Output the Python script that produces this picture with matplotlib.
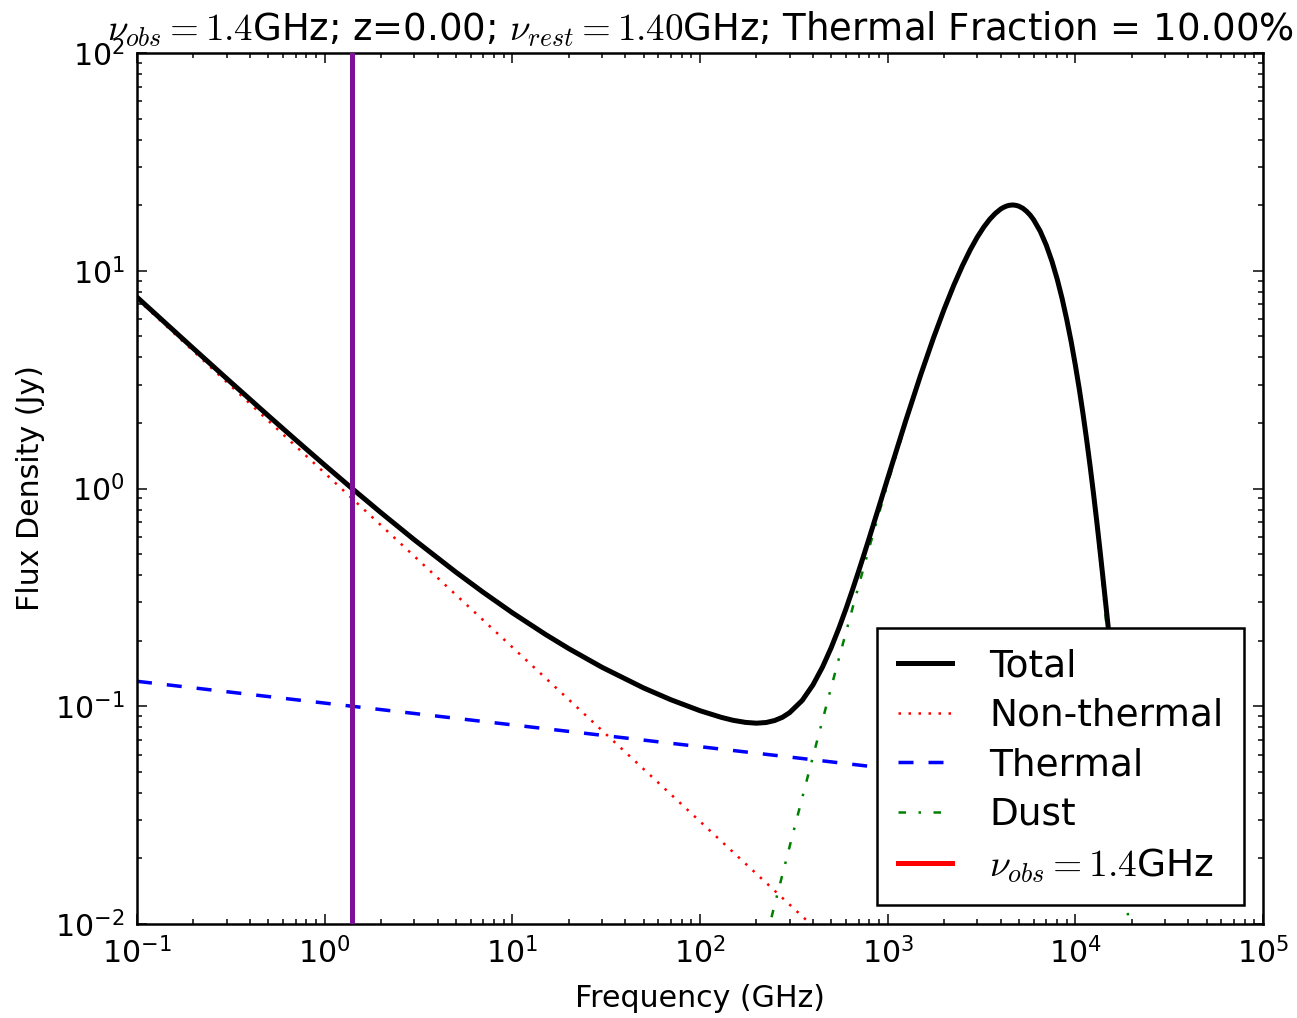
import matplotlib
matplotlib.use("Agg")
from matplotlib import pyplot as plt
from matplotlib.lines import Line2D

# Frequencies (GHz) and fluxes (Jy)
freq = [0.1, 0.2, 0.3, 0.5, 0.7, 1, 1.4, 2, 3, 5, 7, 10, 15, 20, 30, 50, 70, 100,
        130, 150, 175, 200, 225, 250, 275, 300, 350, 400, 450, 500, 550, 600,
        650, 700, 750, 800, 900, 1000, 1250, 1500, 1750, 2000, 2250, 2500, 2750,
        3000, 3250, 3500, 3750, 4000, 4150, 4300, 4450, 4650, 4850, 5000, 5250,
        5500, 5750, 6000, 6500, 7000, 7500, 8000, 8500, 9000, 9500, 10000,
        10500, 11000, 11500, 12000, 12500, 13000, 13500, 14000, 14500, 15000,
        15500, 16000, 17000, 18000, 19000, 20000, 21000, 30000, 50000]
total = [7.561, 4.390, 3.203, 2.162, 1.674, 1.281, 1.000, 0.7730, 0.5819, 0.4131,
         0.3335, 0.2688, 0.2139, 0.1839, 0.1511, 0.1214, 0.1071, 0.0954, 0.0889,
         0.0862, 0.0843, 0.0836, 0.0842, 0.0860, 0.0890, 0.0934, 0.1062, 0.1254,
         0.1516, 0.1857, 0.2285, 0.2806, 0.3432, 0.4166, 0.5011, 0.5976, 0.8284,
         1.112, 2.056, 3.327, 4.885, 6.661, 8.574, 10.53, 12.45, 14.25, 15.86,
         17.24, 18.35, 19.20, 19.56, 19.82, 19.98, 20.05, 19.95, 19.79, 19.36,
         18.74, 18.00, 17.13, 15.19, 13.11, 11.07, 9.168, 7.461, 5.97, 4.727,
         3.69, 2.858, 2.189, 1.664, 1.258, 0.946, 0.709, 0.5306, 0.397, 0.2991,
         0.2267, 0.1737, 0.1353, 0.0876, 0.0631, 0.0507, 0.0445, 0.0413, 0.0372,
         0.0353]

# power-law components (straight in log-log)
pl_freq = [0.1, 1, 1.4, 10, 100, 1000, 10000, 50000]
non_thermal = [7.431, 1.178, 0.900, 0.1867, 0.02959, 0.00469, 0.00074, 0.00021]
thermal = [0.1302, 0.1034, 0.1000, 0.08214, 0.06523, 0.05182, 0.04118, 0.03504]

dust_freq = [100, 130, 150, 175, 200, 225, 250, 275, 300, 350, 400, 450, 500, 550,
             600, 650, 700, 750, 800, 900, 1000, 1250, 1500, 1750, 2000, 2250,
             2500, 2750, 3000, 3250, 3500, 3750, 4000, 4150, 4300, 4450, 4650,
             4850, 5000, 5250, 5500, 5750, 6000, 6500, 7000, 7500, 8000, 8500,
             9000, 9500, 10000, 10500, 11000, 11500, 12000, 12500, 13000, 13500,
             14000, 14500, 15000, 15500, 16000, 17000, 18000, 19000, 20000, 21000]
dust = [0.00053, 0.00132, 0.00215, 0.00365, 0.00575, 0.00857, 0.01225, 0.01688,
        0.0226, 0.0378, 0.0588, 0.08656, 0.122, 0.1659, 0.219, 0.2825, 0.3566,
        0.4419, 0.539, 0.7709, 1.055, 2.001, 3.274, 4.833, 6.61, 8.524, 10.48,
        12.40, 14.20, 15.81, 17.19, 18.30, 19.15, 19.51, 19.77, 19.93, 20.0,
        19.90, 19.74, 19.31, 18.70, 17.96, 17.09, 15.15, 13.07, 11.03, 9.125,
        7.418, 5.93, 4.685, 3.65, 2.816, 2.148, 1.623, 1.217, 0.905, 0.668, 0.490,
        0.357, 0.2589, 0.1866, 0.1338, 0.0955, 0.0481, 0.0238, 0.01163, 0.00561,
        0.00268]
nu_obs = 1.4

plt.rcParams['font.family'] = 'DejaVu Sans'
plt.rcParams['mathtext.fontset'] = 'cm'
plt.rcParams['lines.scale_dashes'] = False
for ax_name in ('xtick', 'ytick'):
    plt.rcParams[ax_name + '.direction'] = 'in'
    plt.rcParams[ax_name + '.major.size'] = 4
    plt.rcParams[ax_name + '.minor.size'] = 2
    plt.rcParams[ax_name + '.major.width'] = 0.6
    plt.rcParams[ax_name + '.minor.width'] = 0.6
    plt.rcParams[ax_name + '.labelsize'] = 12
    plt.rcParams[ax_name + '.major.pad'] = 5
plt.rcParams['xtick.top'] = True
plt.rcParams['ytick.right'] = True

fig = plt.figure(figsize=(1297 / 180, 1018 / 180), dpi=180)
ax = fig.add_axes([137 / 1297, 94 / 1018, 1126 / 1297, 871 / 1018])
for s in ax.spines.values():
    s.set_linewidth(1.0)

ax.plot(freq, total, color='k', lw=2, label='Total', zorder=4)
ax.plot(pl_freq, non_thermal, color='r', lw=1, dashes=(1, 3), label='Non-thermal')
ax.plot(pl_freq, thermal, color='b', lw=1.4, dashes=(6, 6), label='Thermal')
ax.plot(dust_freq, dust, color=(0, 0.5, 0), lw=1, dashes=(3, 5, 1, 5), label='Dust')
ax.axvline(nu_obs, color='#80109a', lw=2, zorder=5)

ax.set_xscale('log')
ax.set_yscale('log')
ax.set_xlim(0.1, 1e5)
ax.set_ylim(1e-2, 1e2)
ax.set_xlabel('Frequency (GHz)', fontsize=12, labelpad=6)
ax.set_ylabel('Flux Density (Jy)', fontsize=12)
ax.set_title(r'$\nu_{obs} = 1.4$GHz; z=0.00; $\nu_{rest} = 1.40$GHz; Thermal Fraction = 10.00%',
             fontsize=14.8, pad=5)

handles, labels = ax.get_legend_handles_labels()
handles.append(Line2D([], [], color='r', lw=2))
labels.append(r'$\nu_{obs} = 1.4$GHz')
leg = ax.legend(handles, labels, loc='lower right', fontsize=15, fancybox=False,
                framealpha=1, edgecolor='k', handlelength=1.45, handletextpad=1.0,
                labelspacing=0.36, borderpad=0.55)
leg.get_frame().set_linewidth(1.0)
leg.set_zorder(10)

fig.savefig('out.png', dpi=180)
